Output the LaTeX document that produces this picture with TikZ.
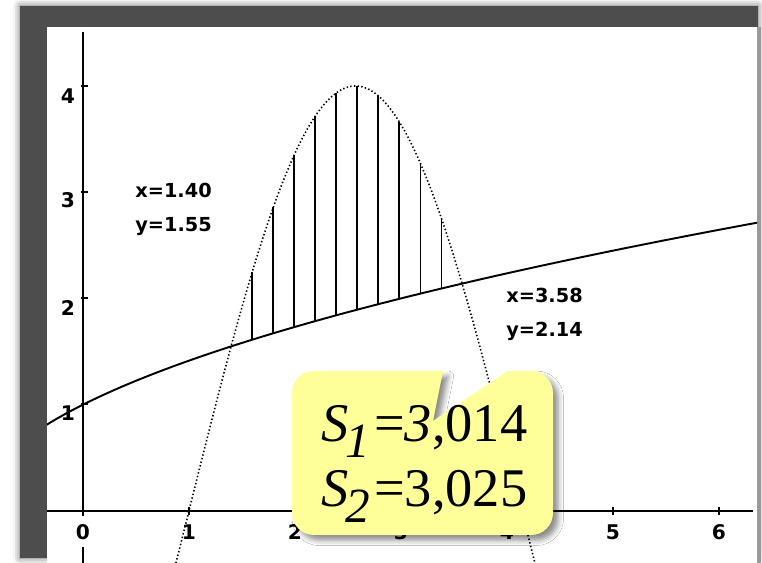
\documentclass[tikz,border=0pt]{standalone}
\usepackage{fontspec}
\setmainfont{Liberation Serif}
\newfontfamily\axfont{DejaVu Sans}
\usetikzlibrary{shadows.blur}
\definecolor{framegray}{HTML}{4D4D4D}
\definecolor{stripgray}{HTML}{9A9A9A}
\definecolor{calloutyellow}{HTML}{FFFF99}
\tikzset{
  axis/.style={line width=1pt, black},
  tick/.style={line width=0.8pt, black},
  curve/.style={line width=1.1pt, black},
  dotcurve/.style={line width=0.9pt, black, dash pattern=on 0.8pt off 1.3pt},
  hatch/.style={line width=1pt, black},
  axlabel/.style={font=\axfont\bfseries\fontsize{11.5}{11.5}\selectfont, inner sep=0pt, anchor=base},
  coordlabel/.style={font=\axfont\bfseries\fontsize{11}{13}\selectfont, inner sep=0pt, anchor=base west},
  bigtext/.style={font=\fontsize{31}{31}\selectfont, inner sep=0pt, anchor=base west},
}
\begin{document}
\begin{tikzpicture}[x=0.02cm,y=-0.02cm]
\useasboundingbox (0,0) rectangle (762,563);
% window frame
\fill[framegray, blur shadow={shadow xshift=0pt,shadow yshift=0pt,shadow blur radius=4pt,shadow opacity=60}] (20,6) rectangle (758,558);
\fill[white] (47,27) rectangle (757,563);
\fill[stripgray] (757,27) rectangle (761,563);
\begin{scope}
\clip (47,27) rectangle (757,563);
% axes
\draw[axis] (47,511) coordinate (xs) -- (753,511) coordinate (xe);
\draw[axis] (83,32) coordinate (ys) -- (83,516) coordinate (ye);
\draw[axis] (83,547) coordinate (ys2) -- (83,563) coordinate (ye2);
\foreach \py in {86,192,298,404} \draw[tick] (81,\py) -- (88,\py);
\foreach \px in {189,295,401,507,613,719} \draw[tick] (\px,507) -- (\px,515);
% y tick labels
\node[axlabel] (l4) at (68,104) {4};
\node[axlabel] (l3) at (68,208) {3};
\node[axlabel] (l2) at (68,316) {2};
\node[axlabel] (l1) at (68,421) {1};
% x tick labels
\node[axlabel] (m0) at (83,540) {0};
\node[axlabel] (m1) at (189,540) {1};
\node[axlabel] (m2) at (295,540) {2};
\node[axlabel] (m3) at (401,540) {3};
\node[axlabel] (m4) at (507,540) {4};
\node[axlabel] (m5) at (613,540) {5};
\node[axlabel] (m6) at (719,540) {6};
% curves in data coordinates
\begin{scope}[shift={(1.66cm,-10.22cm)},x=2.12cm,y=2.125cm]
\draw[curve] plot[domain=-0.4:6.4, samples=120] (\x,{sqrt(\x+1)});
\draw[dotcurve] plot[domain=0.8:4.35, samples=160, smooth] (\x,{4*sin(deg(\x-1))});
\foreach \k in {1,...,10} {
  \pgfmathsetmacro\xx{1.40+\k*2.18/11}
  \draw[hatch] (\xx,{sqrt(\xx+1)}) -- (\xx,{4*sin(deg(\xx-1))});
}
\end{scope}
% intersection labels
\node[coordlabel] (p1x) at (135,198) {x=1.40};
\node[coordlabel] (p1y) at (135,232) {y=1.55};
\node[coordlabel] (p2x) at (506,303) {x=3.58};
\node[coordlabel] (p2y) at (506,337) {y=2.14};
\end{scope}
% callout
\path[fill=calloutyellow, blur shadow={shadow xshift=3pt,shadow yshift=-3pt,shadow blur radius=3pt,shadow opacity=45}]
  (508,371) -- (531,371) .. controls (543.15,371) and (553,380.85) .. (553,393)
  -- (553,513) .. controls (553,525.15) and (543.15,535) .. (531,535)
  -- (314,535) .. controls (301.85,535) and (292,525.15) .. (292,513)
  -- (292,393) .. controls (292,380.85) and (301.85,371) .. (314,371)
  -- (443,371) -- (433,421) -- cycle;
\node[bigtext] (s1) at (321,442) {\itshape S\kern-1.5pt\raisebox{-9pt}{\fontsize{28}{28}\selectfont 1}\kern2pt\upshape=\itshape 3\upshape,014};
\node[bigtext] (s2) at (321,507) {\itshape S\kern-1.5pt\raisebox{-9pt}{\fontsize{28}{28}\selectfont 2}\kern2pt\upshape=3,025};
\end{tikzpicture}
\end{document}
